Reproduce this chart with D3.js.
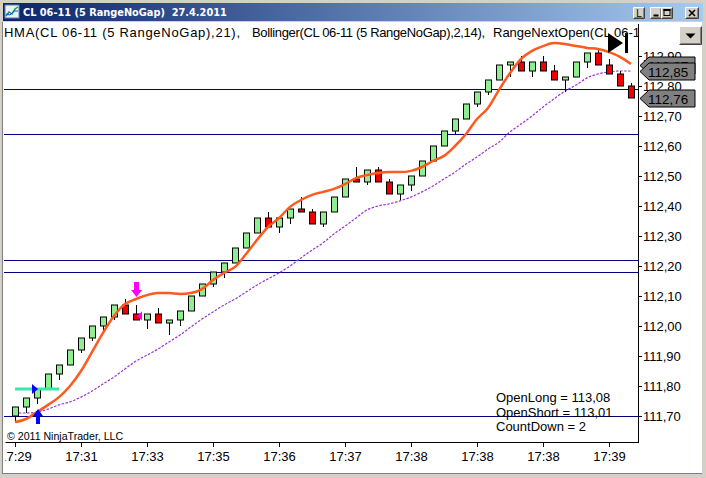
<!DOCTYPE html>
<html>
<head>
<meta charset="utf-8">
<script src="https://cdn.jsdelivr.net/npm/d3@7"></script>
<style>
  body { margin: 0; background: #d4d0c8; }
  svg { display: block; font-family: "Liberation Sans", Arial, sans-serif; }
</style>
</head>
<body>
<div id="chart"></div>
<script>
    // Range bars (5 RangeNoGap)
    open_ = [111.70,111.73,111.76,111.79,111.84,111.87,111.92,111.96,112.00,112.03,
             112.07,112.04,112.02,112.04,112.01,112.02,112.05,112.10,112.14,112.18,
             112.21,112.26,112.31,112.36,112.33,112.36,112.39,112.38,112.34,112.38,
             112.43,112.49,112.48,112.52,112.48,112.44,112.47,112.50,112.55,112.60,
             112.65,112.69,112.74,112.78,112.82,112.87,112.88,112.85,112.88,112.85,
             112.82,112.83,112.88,112.91,112.87,112.84,112.80]
    high_ = [111.73,111.76,111.79,111.84,111.87,111.92,111.96,112.00,112.03,112.07,
             112.09,112.07,112.04,112.06,112.02,112.05,112.10,112.14,112.18,112.21,
             112.26,112.31,112.36,112.38,112.36,112.39,112.43,112.39,112.38,112.43,
             112.49,112.53,112.52,112.53,112.49,112.47,112.50,112.55,112.60,112.65,
             112.69,112.74,112.78,112.82,112.87,112.88,112.90,112.88,112.90,112.87,
             112.83,112.88,112.91,112.92,112.89,112.85,112.81]
    low_  = [111.68,111.71,111.74,111.79,111.82,111.87,111.91,111.95,111.98,112.02,
             112.04,112.02,111.99,112.01,111.97,112.00,112.05,112.10,112.13,112.16,
             112.21,112.26,112.31,112.33,112.31,112.34,112.38,112.34,112.33,112.38,
             112.43,112.48,112.47,112.48,112.44,112.42,112.45,112.50,112.55,112.60,
             112.64,112.69,112.73,112.77,112.82,112.83,112.85,112.83,112.85,112.82,
             112.78,112.83,112.86,112.87,112.84,112.80,112.76]
    close_ = [111.73,111.76,111.79,111.84,111.87,111.92,111.96,112.00,112.03,112.07,
             112.04,112.02,112.04,112.01,112.02,112.05,112.10,112.14,112.18,112.21,
             112.26,112.31,112.36,112.33,112.36,112.39,112.38,112.34,112.38,112.43,
             112.49,112.48,112.52,112.48,112.44,112.47,112.50,112.55,112.60,112.65,
             112.69,112.74,112.78,112.82,112.87,112.88,112.85,112.88,112.85,112.82,
             112.83,112.88,112.91,112.87,112.84,112.80,112.76]

    // HMA(21) and Bollinger middle band
    hma = [111.68,111.69,111.713,111.737,111.763,111.80,111.85,111.913,111.977,112.033,
           112.073,112.09,112.103,112.11,112.11,112.107,112.11,112.123,112.153,112.177,
           112.197,112.24,112.287,112.33,112.36,112.397,112.42,112.437,112.447,112.457,
           112.473,112.493,112.503,112.51,112.513,112.513,112.517,112.53,112.55,112.567,
           112.60,112.64,112.69,112.727,112.787,112.843,112.89,112.917,112.933,112.943,
           112.94,112.933,112.927,112.923,112.913,112.897,112.873]
    boll = [111.71,111.71,111.713,111.723,111.737,111.747,111.763,111.783,111.807,111.83,
            111.857,111.883,111.903,111.923,111.947,111.97,111.997,112.023,112.047,112.07,
            112.09,112.113,112.137,112.157,112.177,112.20,112.227,112.253,112.277,112.307,
            112.333,112.36,112.387,112.40,112.407,112.417,112.43,112.447,112.467,112.49,
            112.513,112.54,112.563,112.59,112.613,112.647,112.673,112.70,112.73,112.757,
            112.783,112.803,112.827,112.84,112.847,112.85,112.85]

    // axes
    time_ticks = [0, 6, 12, 18, 24, 30, 36, 42, 48, 54]
    time_labels = ["17:29","17:31","17:33","17:35","17:36","17:37","17:38","17:38","17:38","17:39"]
    price_ticks = [111.70,111.80,111.90,112.00,112.10,112.20,112.30,112.40,112.50,112.60,112.70,112.80,112.90]

    // horizontal lines and price tags on the axis
    h_lines = [112.79, 112.64, 112.22, 112.18, 111.70]
    tag_values = [112.87, 112.85, 112.76]

    // signal markers: bar index and price
    long_arrow = {bar: 2, price: 111.723}
    entry_line = {from: 0, to: 4, price: 111.79}
    short_arrow = {bar: 11, price: 112.097}
    short_tri = {bar: 11, price: 112.033}
    end_mark = {bar: 55, price: 112.943}

    legend_parts = ["HMA(CL 06-11 (5 RangeNoGap),21),", "Bollinger(CL 06-11 (5 RangeNoGap),2,14),", "RangeNextOpen(CL 06-11 (5 RangeNoGap))"]
    info_lines = ["OpenLong = 113,08", "OpenShort = 113,01", "CountDown = 2"]

    canvas = ({width: 706, height: 478})
    plot = ({left: 4, right: 638, top: 23, bottom: 442})

    l_green = "#90ee90"
    l_red = "#ee0000"
    l_orange = "#ff5a1e"
    l_purple = "#9a30d8"
    l_navy = "#000080"

    x = d3.scaleLinear().domain([0, 56]).range([15, 631])
    y = d3.scaleLinear().domain([111.70, 112.70]).range([416, 116])

    var svg = d3.select("#chart").append("svg")
        .attr("width", canvas.width)
        .attr("height", canvas.height)

    // Window frame
    svg.append("rect").attr("width", canvas.width).attr("height", canvas.height).attr("fill", "#d4d0c8")
    var defs = svg.append("defs")
    var grad = defs.append("linearGradient").attr("id", "tb")
    grad.append("stop").attr("offset", "0%").attr("stop-color", "#0a246a")
    grad.append("stop").attr("offset", "100%").attr("stop-color", "#a6caf0")
    defs.append("clipPath").attr("id", "plotclip").append("rect")
        .attr("x", plot.left).attr("y", plot.top)
        .attr("width", plot.right - plot.left).attr("height", plot.bottom - plot.top)
    defs.append("clipPath").attr("id", "clientclip").append("rect")
        .attr("x", 5.5).attr("y", 22).attr("width", 696.5).attr("height", 451)

    svg.append("rect").attr("x", 3).attr("y", 3).attr("width", 700).attr("height", 18).attr("fill", "url(#tb)")

    // title icon
    var icon = svg.append("g").attr("transform", "translate(5,5)")
    icon.append("rect").attr("width", 14).attr("height", 13).attr("fill", "#e8f0f8").attr("stroke", "#6080a0")
    icon.append("path").attr("d", "M1,11 L4,7 L7,9 L10,4 L13,2").attr("fill", "none").attr("stroke", "#10a040").attr("stroke-width", 1.5)
    icon.append("path").attr("d", "M1,9 L5,10 L9,6 L13,6").attr("fill", "none").attr("stroke", "#2050d0").attr("stroke-width", 1)

    var title = svg.append("text").attr("x", 23).attr("y", 16)
        .attr("fill", "#fff").attr("font-weight", "bold").attr("font-size", 12)
        .attr("font-family", "'DejaVu Sans', Tahoma, sans-serif")
        .style("white-space", "pre")
        .text("CL 06-11 (5 RangeNoGap)  27.4.2011")
    var tw = title.node().getComputedTextLength()
    title.attr("font-size", 12 * 204 / tw)

    // caption buttons
    function capButton(bx, by, bw, bh) {
        var g = svg.append("g").attr("transform", `translate(${bx},${by})`)
        g.append("rect").attr("width", bw).attr("height", bh).attr("fill", "#d4d0c8")
        g.append("path").attr("d", `M0,${bh} L0,0 L${bw},0`).attr("fill", "none").attr("stroke", "#fff")
        g.append("path").attr("d", `M0,${bh} L${bw},${bh} L${bw},0`).attr("fill", "none").attr("stroke", "#404040")
        g.append("path").attr("d", `M1,${bh - 1} L${bw - 1},${bh - 1} L${bw - 1},1`).attr("fill", "none").attr("stroke", "#808080")
        return g
    }
    var bL = capButton(633.5, 7.5, 11, 11)
    bL.append("text").attr("x", 5.5).attr("y", 9.5).attr("text-anchor", "middle").attr("font-size", 10).text("L")
    var bMin = capButton(650.5, 7.5, 11, 11)
    bMin.append("rect").attr("x", 3).attr("y", 7).attr("width", 5).attr("height", 2).attr("fill", "#000")
    var bMax = capButton(661.5, 7.5, 11, 11)
    bMax.append("rect").attr("x", 2.5).attr("y", 2).attr("width", 6).attr("height", 6).attr("fill", "none").attr("stroke", "#000")
    bMax.append("rect").attr("x", 2).attr("y", 1.5).attr("width", 7).attr("height", 2).attr("fill", "#000")
    var bX = capButton(685.5, 7.5, 13, 11)
    bX.append("path").attr("d", "M3.5,2.5 L9.5,8.5 M9.5,2.5 L3.5,8.5").attr("stroke", "#000").attr("stroke-width", 1.6)

    // client area
    svg.append("rect").attr("x", 3).attr("y", 22).attr("width", 699).attr("height", 451).attr("fill", "#fff")
    svg.append("line").attr("x1", 3).attr("x2", 702).attr("y1", 473.5).attr("y2", 473.5).attr("stroke", "#808080")
    svg.append("line").attr("x1", 2.5).attr("x2", 2.5).attr("y1", 22).attr("y2", 474).attr("stroke", "#808080")

    // dropdown button
    var dd = capButton(679.5, 26.5, 22, 18)
    dd.append("path").attr("d", "M6,7 L16,7 L11,12 Z").attr("fill", "#000")

    // Legend, pieces placed where the reference shows them
    var leg = svg.append("g").attr("clip-path", "url(#plotclip)")
    var leg_x = [4, 252, 493]
    var leg_w = [236, 233, null]
    legend_parts.forEach(function(s, i) {
        var t = leg.append("text").attr("x", leg_x[i]).attr("y", 37).attr("font-size", 13).attr("fill", "#000").text(s)
        if (leg_w[i] !== null) {
            t.attr("textLength", leg_w[i]).attr("lengthAdjust", "spacing")
        }
    })

    var chart = svg.append("g").attr("clip-path", "url(#plotclip)")

    // horizontal lines
    chart.selectAll(".hline").data(h_lines).join("line")
        .attr("x1", plot.left).attr("x2", plot.right)
        .attr("y1", d => Math.round(y(d)) + 0.5).attr("y2", d => Math.round(y(d)) + 0.5)
        .attr("stroke", l_navy).attr("stroke-width", 1)

    var bars = d3.range(open_.length).map(i => ({i: i, o: open_[i], h: high_[i], l: low_[i], c: close_[i]}))

    // Bollinger middle
    var line = d3.line().x((d, i) => x(i)).y(d => y(d)).curve(d3.curveMonotoneX)
    chart.append("path").attr("fill", "none").attr("stroke", l_purple).attr("stroke-width", 1.2)
        .attr("stroke-dasharray", "2.5,1.5").attr("d", line(boll))

    // candles
    var cw = 7
    var cg = chart.selectAll(".bar").data(bars).join("g")
    cg.append("line")
        .attr("x1", d => Math.round(x(d.i)) + 0.5).attr("x2", d => Math.round(x(d.i)) + 0.5)
        .attr("y1", d => y(d.h)).attr("y2", d => y(d.l))
        .attr("stroke", "#000")
    cg.append("rect")
        .attr("x", d => Math.round(x(d.i)) - 3 + 0.5)
        .attr("y", d => y(Math.max(d.o, d.c)))
        .attr("width", cw - 1)
        .attr("height", d => Math.max(1, y(Math.min(d.o, d.c)) - y(Math.max(d.o, d.c))))
        .attr("fill", d => d.c >= d.o ? l_green : l_red)
        .attr("stroke", "#000").attr("stroke-width", 1)

    // HMA
    chart.append("path").attr("fill", "none").attr("stroke", l_orange).attr("stroke-width", 2.5)
        .attr("stroke-linejoin", "round").attr("d", line(hma))

    // entry line + triangle
    chart.append("line")
        .attr("x1", x(entry_line.from)).attr("x2", x(entry_line.to))
        .attr("y1", y(entry_line.price)).attr("y2", y(entry_line.price))
        .attr("stroke", "#3ce6a8").attr("stroke-width", 3)
    var ex = x(long_arrow.bar), ey = y(entry_line.price)
    chart.append("path").attr("fill", "#0000ff")
        .attr("d", `M${ex - 5},${ey - 5} L${ex + 1},${ey} L${ex - 5},${ey + 5} Z`)

    // long arrow (up)
    var ax = x(long_arrow.bar) + 1, ay = y(long_arrow.price)
    chart.append("path").attr("fill", "#0000ff")
        .attr("d", `M${ax},${ay} L${ax + 5},${ay + 7} L${ax + 2},${ay + 7} L${ax + 2},${ay + 15} L${ax - 2},${ay + 15} L${ax - 2},${ay + 7} L${ax - 5},${ay + 7} Z`)

    // short arrow (down)
    var sx = x(short_arrow.bar) + 0.5, sy = y(short_arrow.price)
    chart.append("path").attr("fill", "#ff00ff")
        .attr("d", `M${sx},${sy} L${sx + 5.5},${sy - 7} L${sx + 2.5},${sy - 7} L${sx + 2.5},${sy - 15} L${sx - 2.5},${sy - 15} L${sx - 2.5},${sy - 7} L${sx - 5.5},${sy - 7} Z`)
    var tx = x(short_tri.bar), ty = y(short_tri.price)
    chart.append("path").attr("fill", "#ff00ff")
        .attr("d", `M${tx + 1},${ty} L${tx + 6},${ty - 4.5} L${tx + 6},${ty + 4.5} Z`)

    // end-of-bars marker
    var mx = x(end_mark.bar), my = y(end_mark.price)
    chart.append("path").attr("fill", "#000")
        .attr("d", `M${mx - 12},${my - 10} L${mx + 3},${my} L${mx - 12},${my + 10} Z`)
    chart.append("rect").attr("x", mx + 5).attr("y", my - 10).attr("width", 3).attr("height", 20).attr("fill", "#000")

    // copyright
    svg.append("text").attr("x", 7).attr("y", 440).attr("font-size", 10.6).attr("fill", "#000")
        .text("\u00a9 2011 NinjaTrader, LLC")

    // info box
    svg.append("g").selectAll("text").data(info_lines).join("text")
        .attr("x", 496).attr("y", (d, i) => 402 + i * 14.5)
        .attr("font-size", 13).attr("fill", "#000")
        .text(d => d)

    // Axes
    var client = svg.append("g").attr("clip-path", "url(#clientclip)")
    yAxis = g => g
        .attr("transform", `translate(${plot.right},0)`)
        .call(d3.axisRight(y).tickValues(price_ticks).tickSize(4).tickPadding(1)
            .tickFormat(d => d.toFixed(2).replace(".", ",")))
        .call(g => g.select(".domain").remove())
        .call(g => g.selectAll("text").attr("font-size", 13).attr("font-family", "'Liberation Sans', Arial, sans-serif"))
    xAxis = g => g
        .attr("transform", `translate(0,${plot.bottom})`)
        .call(d3.axisBottom(x).tickValues(time_ticks).tickSize(5).tickPadding(5)
            .tickFormat((d, i) => time_labels[i]))
        .call(g => g.select(".domain").remove())
        .call(g => g.selectAll("text").attr("font-size", 13).attr("font-family", "'Liberation Sans', Arial, sans-serif"))
    client.append("g").call(yAxis)
    client.append("g").call(xAxis)

    client.append("line").attr("x1", plot.right + 0.5).attr("x2", plot.right + 0.5)
        .attr("y1", 24).attr("y2", plot.bottom + 0.5).attr("stroke", "#000")
    client.append("line").attr("x1", plot.left).attr("x2", plot.right + 1)
        .attr("y1", plot.bottom + 0.5).attr("y2", plot.bottom + 0.5).attr("stroke", "#000")

    // price tags
    var tags = client.selectAll(".tag").data(tag_values).join("g")
        .attr("transform", d => `translate(${plot.right + 2},${Math.round(y(d)) + 0.5})`)
    tags.append("path")
        .attr("d", "M0,0 L9,-8.5 L55,-8.5 L55,8.5 L9,8.5 Z")
        .attr("fill", "#808080").attr("stroke", "#000")
    tags.append("text").attr("x", 8).attr("y", 5).attr("font-size", 13.5).attr("fill", "#000")
        .text(d => d.toFixed(2).replace(".", ","))
</script>
</body>
</html>
